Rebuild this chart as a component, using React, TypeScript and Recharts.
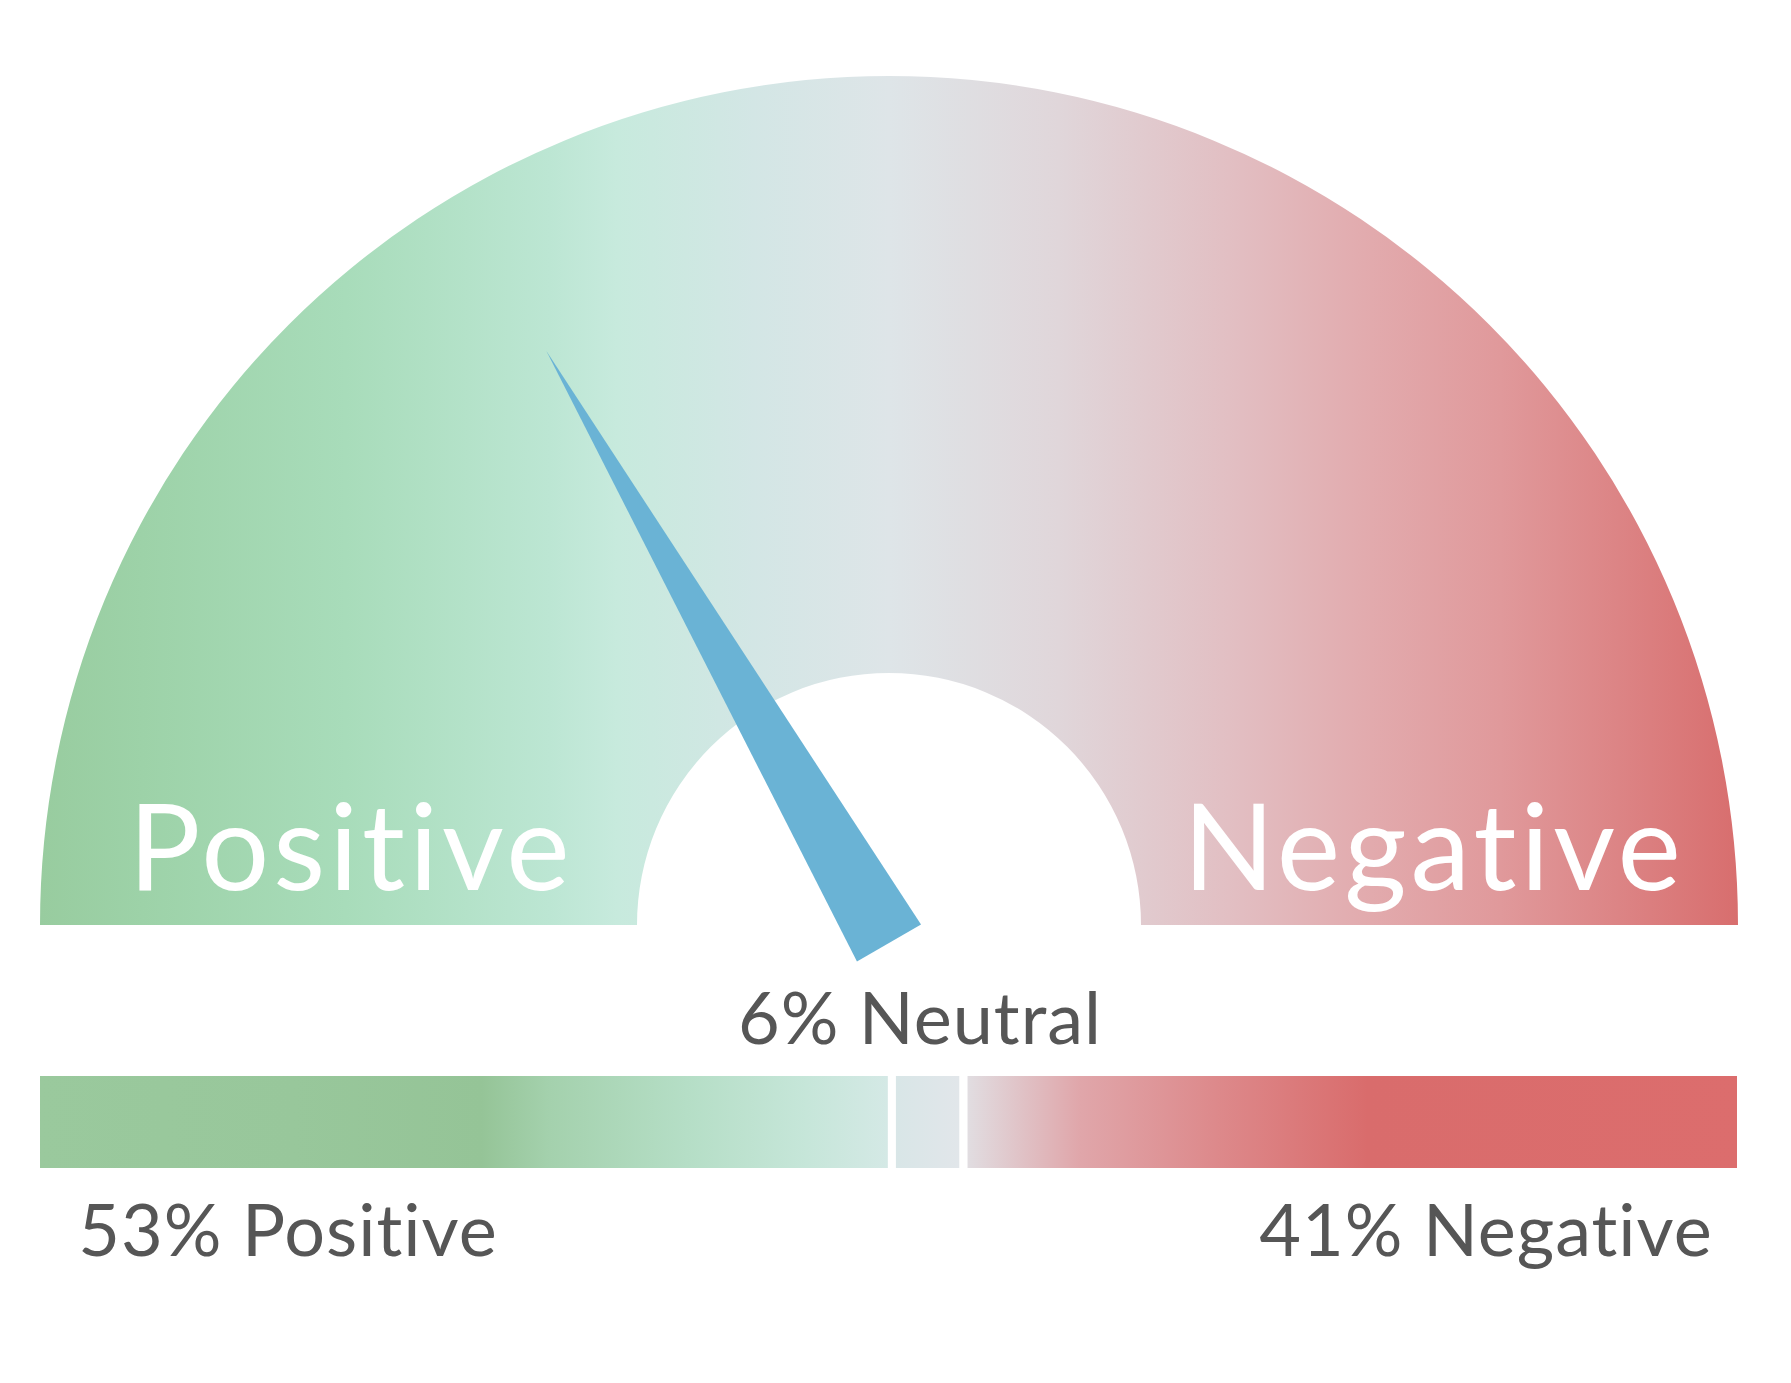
import React from 'react';
import { PieChart, Pie, BarChart, Bar, XAxis, YAxis } from 'recharts';

// sentiment shares printed under the bar
const sentimentNames = ['Positive', 'Neutral', 'Negative'];
const sentimentPercents = [53, 6, 41];
// widths of the three bar segments as drawn (share of the bar)
const barShares = [50.2, 4.2, 45.6];
// needle position on the dial, 0 = full Positive, 100 = full Negative
const needleValue = 33.3;

const GAUGE_CX = 889;
const GAUGE_CY = 925;
const TEXT_GREY = '#565656';
const noLiga = { fontVariantLigatures: 'none', fontFeatureSettings: '"liga" 0' } as React.CSSProperties;

const gaugeStops: [number, string][] = [
    [0, '#98cc9f'], [0.06, '#9dd2a8'], [0.18, '#a8dcba'], [0.3, '#bce6d3'],
    [0.34, '#c7eadd'], [0.42, '#d3e6e5'], [0.5, '#dee5e8'], [0.6, '#e0d6da'],
    [0.7, '#e2bfc3'], [0.78, '#e2abae'], [0.86, '#e0999b'], [0.93, '#dc8485'], [1, '#d86e6e'],
];
const posStops: [number, string][] = [
    [0, '#9ac99d'], [0.3, '#98c79b'], [0.52, '#95c497'], [0.6, '#a4d1ad'], [0.76, '#b5dec6'], [0.9, '#c6e6d9'], [1, '#d5e9e6'],
];
const neuStops: [number, string][] = [[0, '#d8e6e7'], [1, '#e2e6ea']];
const negStops: [number, string][] = [
    [0, '#e1dfe3'], [0.08, '#e0c0c4'], [0.15, '#e0a6aa'], [0.32, '#dd8a8c'], [0.52, '#d96c6c'], [1, '#dc6d6d'],
];

const Grad = ({ id, stops }: { id: string; stops: [number, string][] }) => (
    <linearGradient id={id} x1="0" y1="0" x2="1" y2="0">
        {stops.map(([o, c], i) => <stop key={i} offset={o} stopColor={c} />)}
    </linearGradient>
);

const barRow = [{
    name: 'share',
    [sentimentNames[0]]: barShares[0],
    [sentimentNames[1]]: barShares[1],
    [sentimentNames[2]]: barShares[2],
}];
const barFills = ['url(#gPos)', 'url(#gNeu)', 'url(#gNeg)'];

const needleData = [
    { name: 'needle', value: needleValue },
    { name: 'rest', value: 100 - needleValue },
];

const renderNeedle = (props: any) => {
    if (props.index !== 0) return null;
    const a = (props.endAngle * Math.PI) / 180;
    const dx = Math.cos(a), dy = -Math.sin(a);
    const px = Math.sin(a), py = Math.cos(a);
    const bx = props.cx, by = props.cy + 18;
    const len = 684, half = 37;
    const pts = [
        [bx + dx * len, by + dy * len],
        [bx + px * half, by + py * half],
        [bx - px * half, by - py * half],
    ].map((p) => p.join(',')).join(' ');
    return <polygon points={pts} fill="#6ab3d5" />;
};

const labelText = { fontFamily: 'Lato', fontSize: 72, letterSpacing: 1, fill: TEXT_GREY, textAnchor: 'middle' as const };
const bigText = { fontFamily: 'Lato', fontSize: 120, letterSpacing: 4, fill: '#fff', textAnchor: 'middle' as const };

export default function App() {
    return (
        <div style={{ position: 'absolute', left: 0, top: 0, width: 1791, height: 1383, background: '#fff', fontFamily: 'Lato', ...noLiga }}>
            <div style={{ position: 'absolute', left: 0, top: 0 }}>
                <PieChart width={1791} height={1383} margin={{ top: 0, right: 0, bottom: 0, left: 0 }}>
                    <defs>
                        <Grad id="gGauge" stops={gaugeStops} />
                    </defs>
                    <Pie
                        data={[{ name: 'gauge', value: 1 }]}
                        dataKey="value"
                        cx={GAUGE_CX}
                        cy={GAUGE_CY}
                        startAngle={180}
                        endAngle={0}
                        innerRadius={252}
                        outerRadius={849}
                        fill="url(#gGauge)"
                        stroke="none"
                        isAnimationActive={false}
                    />
                    <Pie
                        data={needleData}
                        dataKey="value"
                        cx={GAUGE_CX}
                        cy={GAUGE_CY}
                        startAngle={180}
                        endAngle={0}
                        innerRadius={0}
                        outerRadius={849}
                        fill="none"
                        stroke="none"
                        label={renderNeedle}
                        labelLine={false}
                        isAnimationActive={false}
                    />
                    <text x={920} y={1044} {...labelText} style={noLiga}>
                        {`${sentimentPercents[1]}% ${sentimentNames[1]}`}
                    </text>
                    <text x={288} y={1256} {...labelText} style={noLiga}>
                        {`${sentimentPercents[0]}% ${sentimentNames[0]}`}
                    </text>
                    <text x={1486} y={1256} {...labelText} style={noLiga}>
                        {`${sentimentPercents[2]}% ${sentimentNames[2]}`}
                    </text>
                </PieChart>
            </div>
            <div style={{ position: 'absolute', left: 0, top: 1072 }}>
                <BarChart
                    width={1791}
                    height={100}
                    data={barRow}
                    layout="vertical"
                    barCategoryGap={0}
                    margin={{ top: 0, right: 50, bottom: 0, left: 36 }}
                >
                    <defs>
                        <Grad id="gPos" stops={posStops} />
                        <Grad id="gNeu" stops={neuStops} />
                        <Grad id="gNeg" stops={negStops} />
                    </defs>
                    <XAxis type="number" domain={[0, 100]} hide />
                    <YAxis type="category" dataKey="name" hide />
                    {sentimentNames.map((n, i) => (
                        <Bar
                            key={n}
                            dataKey={n}
                            stackId="s"
                            fill={barFills[i]}
                            stroke="#fff"
                            strokeWidth={8}
                            isAnimationActive={false}
                        />
                    ))}
                </BarChart>
            </div>
            <svg width={1791} height={1383} style={{ position: 'absolute', left: 0, top: 0, pointerEvents: 'none' }}>
                <text x={351} y={890} {...bigText} style={noLiga}>{sentimentNames[0]}</text>
                <text x={1434} y={890} {...bigText} style={noLiga}>{sentimentNames[2]}</text>
            </svg>
        </div>
    );
}
